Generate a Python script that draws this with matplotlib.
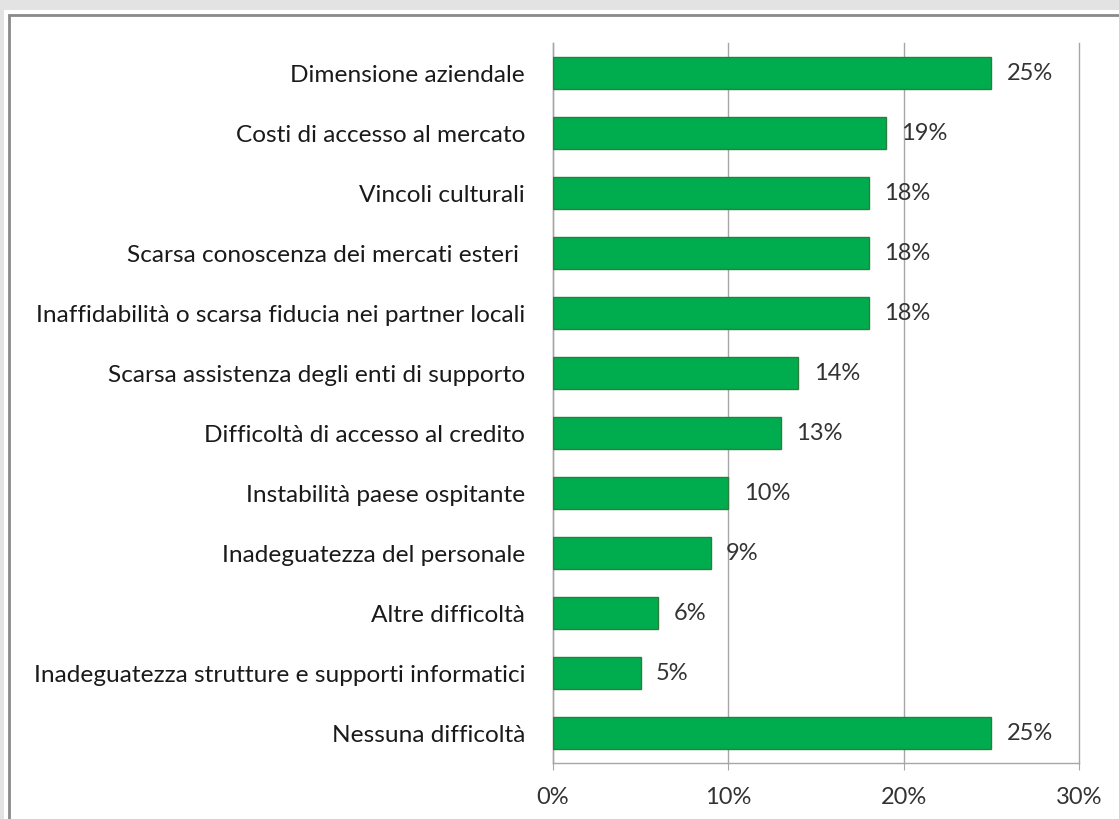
import matplotlib
matplotlib.use("Agg")
import matplotlib.pyplot as plt
from matplotlib.patches import Rectangle
from matplotlib.ticker import FuncFormatter

categories = [
    "Dimensione aziendale",
    "Costi di accesso al mercato",
    "Vincoli culturali",
    "Scarsa conoscenza dei mercati esteri ",
    "Inaffidabilità o scarsa fiducia nei partner locali",
    "Scarsa assistenza degli enti di supporto",
    "Difficoltà di accesso al credito",
    "Instabilità paese ospitante",
    "Inadeguatezza del personale",
    "Altre difficoltà",
    "Inadeguatezza strutture e supporti informatici",
    "Nessuna difficoltà",
]
values = [25, 19, 18, 18, 18, 14, 13, 10, 9, 6, 5, 25]
x_ticks = [0, 10, 20, 30]

plt.rcParams["font.family"] = ["Lato", "DejaVu Sans"]

W, H = 1119, 819
fig = plt.figure(figsize=(W / 100, H / 100), dpi=100)
fig.patch.set_facecolor("#e3e3e3")

# white panel with a thin grey frame, kept beneath the axes
fig.patches.append(Rectangle((4 / W, -0.1), 1.2, 1.1 - 10 / H, transform=fig.transFigure,
                             facecolor="white", edgecolor="none", zorder=-3))
fig.patches.append(Rectangle((9 / W, -0.1), 1.2, 1.1 - 15 / H, transform=fig.transFigure,
                             facecolor="none", edgecolor="#8a8a8a", linewidth=2, zorder=-2))

ax = fig.add_axes([553 / W, 1 - 763 / H, (1079 - 553) / W, (763 - 43) / H])
ax.set_facecolor("none")

ypos = list(range(len(categories)))
ax.barh(ypos, values, height=0.53, color="#00ad4e", edgecolor="#2e7d3e", linewidth=1, zorder=3)

for y, v in zip(ypos, values):
    ax.annotate(f"{v}%", (v, y), xytext=(11, 0), textcoords="offset points",
                va="center", ha="left", fontsize=17, color="#333333")

ax.set_xlim(0, 30)
ax.set_ylim(len(categories) - 0.5, -0.5)
ax.set_xticks(x_ticks)
ax.xaxis.set_major_formatter(FuncFormatter(lambda v, p: f"{v:.0f}%"))
ax.set_yticks(ypos)
ax.set_yticklabels(categories)

ax.grid(axis="x", color="#a6a6a6", linewidth=1, zorder=0)
for gl in ax.get_xgridlines():
    gl.set_clip_on(False)
ax.set_axisbelow(True)
for side in ("top", "right"):
    ax.spines[side].set_visible(False)
for side in ("left", "bottom"):
    ax.spines[side].set_color("#a6a6a6")
    ax.spines[side].set_linewidth(1)

ax.tick_params(axis="y", length=0, pad=20, labelsize=17.6, labelcolor="#1a1a1a")
ax.tick_params(axis="x", length=5, color="#a6a6a6", pad=12, labelsize=17, labelcolor="#333333")

fig.savefig("out.png", dpi=100, facecolor=fig.get_facecolor())
